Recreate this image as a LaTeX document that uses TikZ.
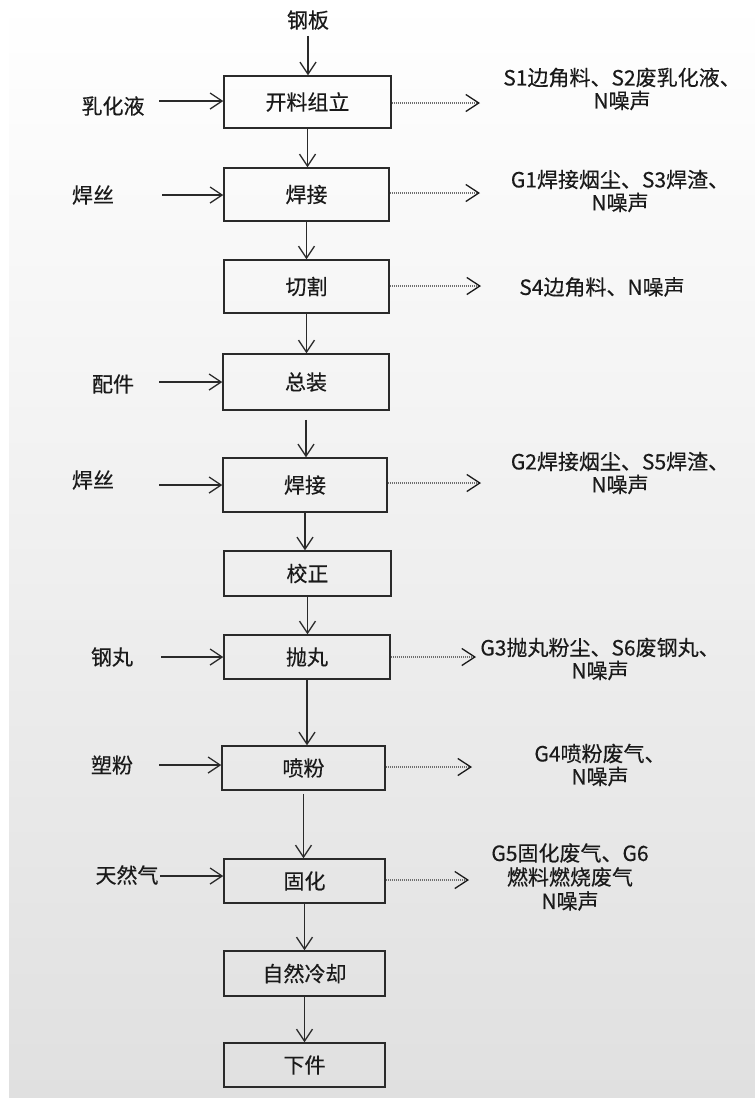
\documentclass[tikz,border=0pt]{standalone}
\usepackage{fontspec}
\newfontfamily\cjk[FakeBold=0.35]{Noto Sans CJK SC}
\usetikzlibrary{arrows.meta}
\definecolor{ink}{HTML}{1A1A1A}
\definecolor{boxline}{HTML}{2A2A2A}
\definecolor{dotc}{HTML}{6E6E6E}
\definecolor{bgbot}{HTML}{E0E0E0}
\tikzset{
  lbl/.style={font=\cjk\fontsize{21}{23}\selectfont, text=ink, inner sep=0pt, align=center},
  proc/.style={lbl, draw=boxline, line width=1.5pt},
  flow/.style={draw=boxline, line width=1.3pt, -{Straight Barb[length=12pt,width=16pt,line width=1.3pt]}},
  waste/.style={draw=dotc, line width=1.7pt, dash pattern=on 1.2pt off 0.8pt,
    -{Straight Barb[length=13pt,width=17pt,line width=1.3pt,color=ink]}}
}
\begin{document}
\begin{tikzpicture}[x=1pt,y=-1pt]
\useasboundingbox (0,0) rectangle (755,1104);
\fill[white] (0,0) rectangle (755,1104);
\shade[top color=white, bottom color=bgbot] (9,0) rectangle (755,1097);

% process boxes
\node[proc, minimum width=167pt, minimum height=52pt] (b1) at (307.5,102) {开料组立};
\node[proc, minimum width=165pt, minimum height=53pt] (b2) at (306.5,194.5) {焊接};
\node[proc, minimum width=165pt, minimum height=53pt] (b3) at (306.5,286.5) {切割};
\node[proc, minimum width=166pt, minimum height=56pt] (b4) at (306,382) {总装};
\node[proc, minimum width=164pt, minimum height=54pt] (b5) at (305,485) {焊接};
\node[proc, minimum width=167pt, minimum height=45pt] (b6) at (307.5,573.5) {校正};
\node[proc, minimum width=166pt, minimum height=44pt] (b7) at (307,657) {抛丸};
\node[proc, minimum width=163pt, minimum height=44pt] (b8) at (303.5,768) {喷粉};
\node[proc, minimum width=161pt, minimum height=44pt] (b9) at (304.5,881) {固化};
\node[proc, minimum width=161pt, minimum height=45pt] (b10) at (304.5,973.5) {自然冷却};
\node[proc, minimum width=161pt, minimum height=44pt] (b11) at (304.5,1065) {下件};

% main flow
\node[lbl] (in0) at (308,20) {钢板};
\draw[flow, shorten <=6pt] (in0.south) -- (in0.south |- b1.north);
\draw[flow] (b1.south) -- (b1.south |- b2.north);
\draw[flow] (b2.south) -- (b2.south |- b3.north);
\draw[flow] (b3.south) -- (b3.south |- b4.north);
\draw[flow, shorten <=9pt] (b4.south) -- (b4.south |- b5.north);
\draw[flow] (b5.south) -- (b5.south |- b6.north);
\draw[flow] (b6.south) -- (b6.south |- b7.north);
\draw[flow] (b7.south) -- (b7.south |- b8.north);
\draw[flow, shorten <=3pt] (b8.south) -- (b8.south |- b9.north);
\draw[flow] (b9.south) -- (b9.south |- b10.north);
\draw[flow] (b10.south) -- (b10.south |- b11.north);

% inputs
\node[lbl] (in1) at (113,106) {乳化液};
\node[lbl] (in2) at (93,195) {焊丝};
\node[lbl] (in4) at (113,384) {配件};
\node[lbl] (in5) at (93,480) {焊丝};
\node[lbl] (in7) at (112,657) {钢丸};
\node[lbl] (in8) at (112,765) {塑粉};
\node[lbl] (in9) at (127,875) {天然气};
\coordinate (s1) at (159,101);
\coordinate (s2) at (162,195);
\coordinate (s4) at (159,382);
\coordinate (s5) at (159,485);
\coordinate (s7) at (161,657);
\coordinate (s8) at (159,765);
\coordinate (s9) at (160,876);
\draw[flow] (s1) -- (s1 -| b1.west);
\draw[flow] (s2) -- (s2 -| b2.west);
\draw[flow] (s4) -- (s4 -| b4.west);
\draw[flow] (s5) -- (s5 -| b5.west);
\draw[flow] (s7) -- (s7 -| b7.west);
\draw[flow] (s8) -- (s8 -| b8.west);
\draw[flow] (s9) -- (s9 -| b9.west);

% wastes
\coordinate (t1) at (480,103);
\coordinate (t2) at (480,193);
\coordinate (t3) at (481,286);
\coordinate (t5) at (481,483);
\coordinate (t7) at (476,657);
\coordinate (t8) at (472,767);
\coordinate (t9) at (469,880);
\draw[waste] (b1.east |- t1) -- (t1);
\draw[waste] (b2.east |- t2) -- (t2);
\draw[waste] (b3.east |- t3) -- (t3);
\draw[waste] (b5.east |- t5) -- (t5);
\draw[waste] (b7.east |- t7) -- (t7);
\draw[waste] (b8.east |- t8) -- (t8);
\draw[waste] (b9.east |- t9) -- (t9);

\node[lbl] (o1) at (622,89) {S1边角料、S2废乳化液、\\N噪声};
\node[lbl] (o2) at (620,191) {G1焊接烟尘、S3焊渣、\\N噪声};
\node[lbl] (o3) at (602,287) {S4边角料、N噪声};
\node[lbl] (o5) at (620,473) {G2焊接烟尘、S5焊渣、\\N噪声};
\node[lbl] (o7) at (600,659) {G3抛丸粉尘、S6废钢丸、\\N噪声};
\node[lbl] (o8) at (600,765) {G4喷粉废气、\\N噪声};
\node[lbl] (o9) at (570,877) {G5固化废气、G6\\[1pt]燃料燃烧废气\\[1pt]N噪声};
\end{tikzpicture}
\end{document}
